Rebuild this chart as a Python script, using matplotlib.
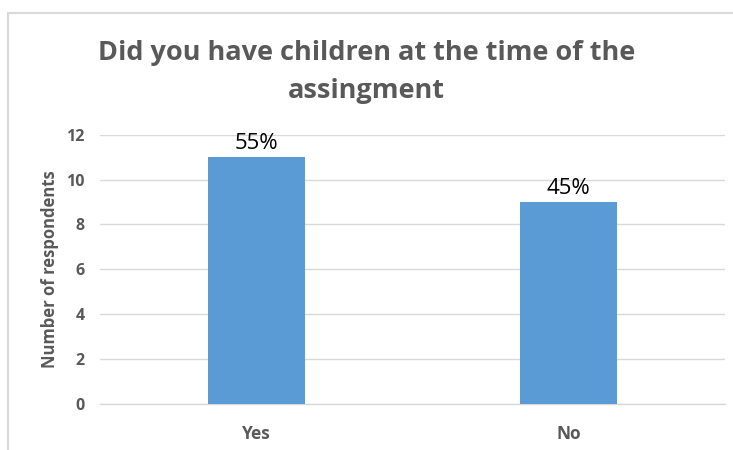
import matplotlib
matplotlib.use("Agg")
import matplotlib.pyplot as plt
from matplotlib.patches import Rectangle

categories = ["Yes", "No"]
values = [11, 9]
labels = ["55%", "45%"]
yticks = [0, 2, 4, 6, 8, 10, 12]

plt.rcParams['font.family'] = ['Open Sans', 'DejaVu Sans']

fig = plt.figure(figsize=(7.33, 4.5), dpi=100)
fig.patch.set_facecolor('white')
fig.add_artist(Rectangle((8/733, -0.1), 1.2, (450-13)/450 + 0.1, transform=fig.transFigure,
                         fill=False, edgecolor='#D9D9D9', linewidth=1.5))

ax = fig.add_axes([100/733, 46/450, 625/733, (404-134.7)/450])
x = range(len(categories))
ax.bar(x, values, width=0.31, color='#5B9BD5', zorder=3)
ax.set_xlim(-0.5, 1.5)
ax.set_ylim(0, 12)
ax.set_yticks(yticks)
ax.set_xticks(list(x))
ax.set_xticklabels(categories)
ax.grid(axis='y', color='#D9D9D9', linewidth=1, zorder=0)
for s in ['top', 'right', 'left']:
    ax.spines[s].set_visible(False)
ax.spines['bottom'].set_color('#D9D9D9')
ax.spines['bottom'].set_linewidth(1)
ax.tick_params(axis='y', length=0, labelcolor='#595959', labelsize=11.5, pad=11)
ax.tick_params(axis='x', length=0, labelcolor='#595959', labelsize=12.5, pad=15)
for t in ax.get_xticklabels() + ax.get_yticklabels():
    t.set_fontweight('bold')

for xi, v, lab in zip(x, values, labels):
    ax.annotate(lab, (xi, v), xytext=(0, 2), textcoords='offset points',
                ha='center', va='bottom', fontsize=16, color='black')

ax.set_ylabel("Number of respondents", fontsize=12, fontweight='bold', color='#595959', labelpad=5)

fig.text(0.5, (450-72)/450, "Did you have children at the time of the\nassingment",
         ha='center', va='center', fontsize=19.5, color='#595959', fontweight='bold', linespacing=1.55)

fig.savefig("out.png", dpi=100)
